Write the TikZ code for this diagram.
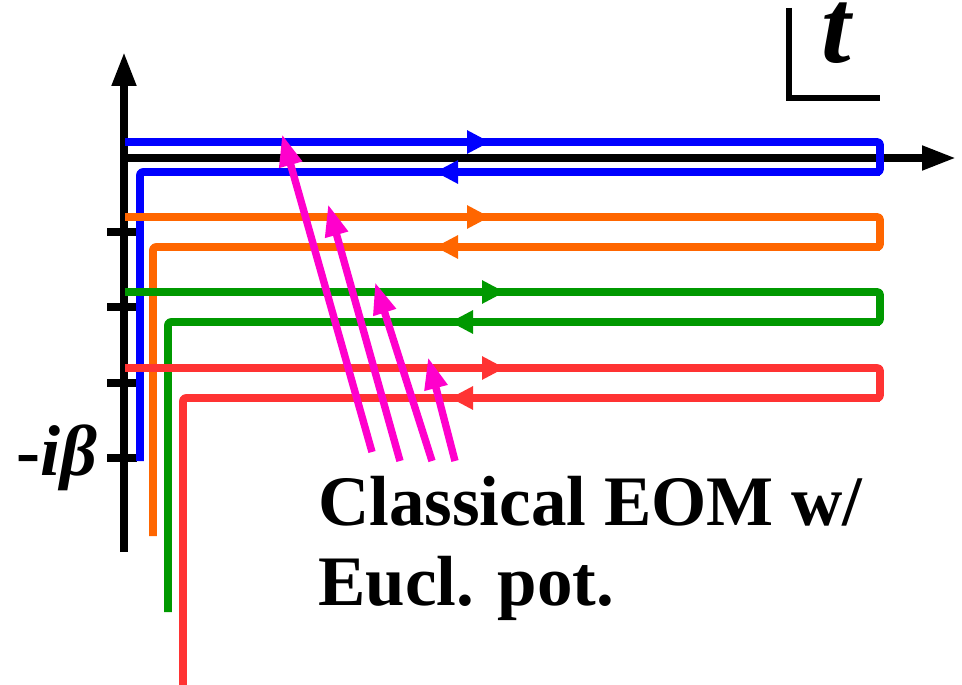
\documentclass[tikz,border=0pt]{standalone}
\usepackage{fontspec}
\setmainfont{Liberation Serif}
\usetikzlibrary{arrows.meta}

\definecolor{cblue}{HTML}{0000FF}
\definecolor{corange}{HTML}{FF6600}
\definecolor{cgreen}{HTML}{009900}
\definecolor{cred}{HTML}{FF3333}
\definecolor{cmagenta}{HTML}{FF00CC}

\begin{document}
\begin{tikzpicture}[x=1pt,y=-1pt,
  axis/.style={line width=7.6pt, black},
  axistip/.style={-{Triangle[length=34pt,width=23pt]}},
  contour/.style={line width=7.6pt, line join=round, rounded corners=2.5pt},
  flowtip/.style={-{Triangle[length=23pt,width=22pt]}},
  eom/.style={line width=7.4pt, cmagenta, -{Triangle[length=32pt,width=22pt]}},
  lbl/.style={inner sep=0pt, font=\fontsize{71}{80}\selectfont\bfseries},
]
\useasboundingbox (0,0) rectangle (962,685);

% axes
\coordinate (O) at (124,158);
\coordinate (ybot) at (124,552);
\coordinate (ytip) at (124,52);
\coordinate (xtip) at (956,158);
\draw[axis,axistip] (ybot) -- (ytip);
\draw[axis,axistip] (O) -- (xtip);

% ticks on the imaginary-time axis
\foreach \k/\ty in {1/232,2/307,3/383,4/458}{
  \coordinate (tick\k-l) at (107,\ty);
  \coordinate (tick\k-r) at (137,\ty);
  \draw[axis] (tick\k-l) -- (tick\k-r);
}

% closed-time-path contours
\foreach \name/\col/\yt/\xv/\yend/\fx/\bx in {
    blue/cblue/142/140/461/490/435,
    orange/corange/217/153/536/490/435,
    green/cgreen/292/168/612/505/450,
    red/cred/368/183/692/505/450}{
  \pgfmathsetmacro\yb{\yt+30}
  \coordinate (\name-in) at (125,\yt);
  \coordinate (\name-tr) at (880,\yt);
  \coordinate (\name-br) at (880,\yb);
  \coordinate (\name-bl) at (\xv,\yb);
  \coordinate (\name-out) at (\xv,\yend);
  \coordinate (\name-fw) at (\fx,\yt);
  \coordinate (\name-bw) at (\bx,\yb);
  \draw[contour,\col] (\name-in) -- (\name-tr) -- (\name-br) -- (\name-bl) -- (\name-out);
  \draw[line width=7.6pt,\col,flowtip] (\name-in) -- (\name-fw);
  \draw[line width=7.6pt,\col,flowtip] (\name-br) -- (\name-bw);
}

% classical equations of motion
\coordinate (m1-tail) at (372,452); \coordinate (m1-tip) at (282,134);
\coordinate (m2-tail) at (400,461); \coordinate (m2-tip) at (328,204);
\coordinate (m3-tail) at (432,461); \coordinate (m3-tip) at (375,282);
\coordinate (m4-tail) at (455,461); \coordinate (m4-tip) at (428,357);
\foreach \k in {1,...,4}{
  \draw[eom] (m\k-tail) -- (m\k-tip);
}

% time direction marker
\coordinate (Ltop) at (789,8);
\coordinate (Lcorner) at (789,98);
\coordinate (Lend) at (880,98);
\draw[line width=6.5pt] (Ltop) -- (Lcorner) -- (Lend);
\node[inner sep=0pt, anchor=base, font=\fontsize{106}{106}\selectfont\bfseries\itshape] (tlabel) at (836,63) {\smash{t}};

% labels
\node[inner sep=0pt, anchor=base west, font=\fontsize{72}{80}\selectfont\bfseries\itshape] (betalabel) at (16,475) {\textup{-}iβ};
\node[lbl, anchor=base west] (eomlabel1) at (318,525) {Classical EOM w/};
\node[lbl, anchor=base west] (eomlabel2) at (318,605) {Eucl. pot.};
\end{tikzpicture}
\end{document}
